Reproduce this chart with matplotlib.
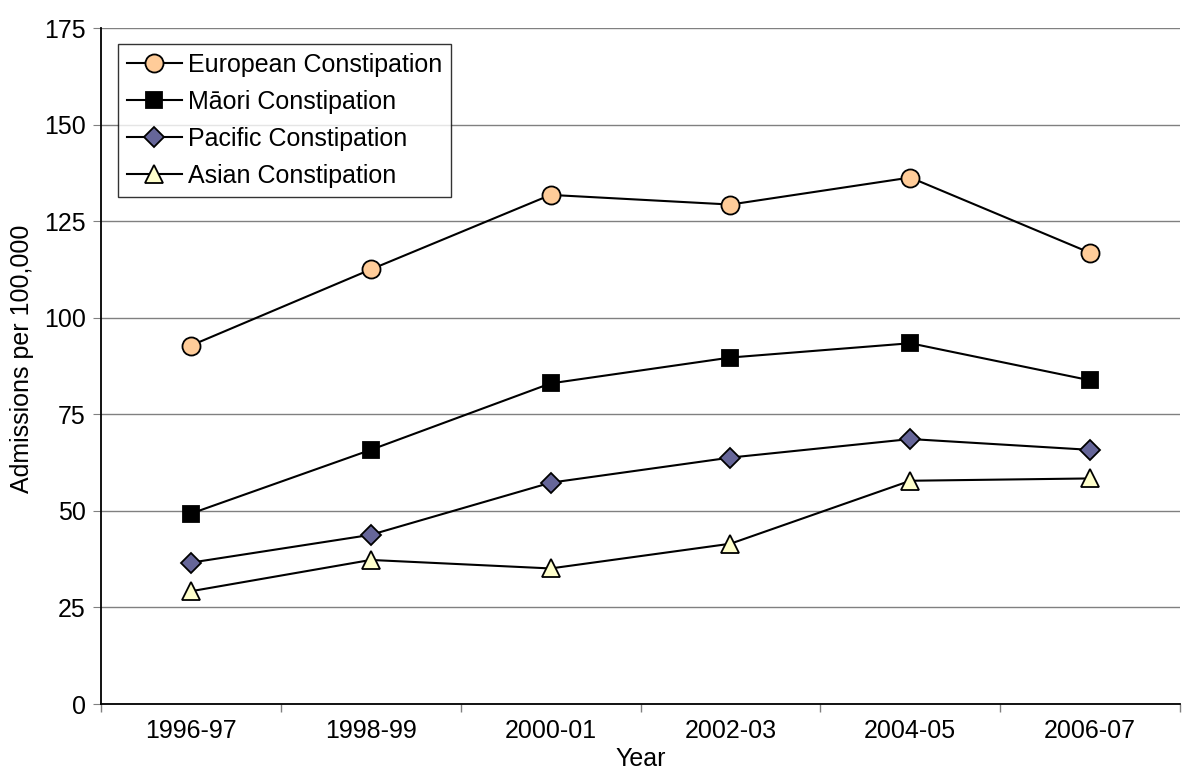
import numpy as np
import matplotlib.pyplot as plt

plt.rcParams['font.family'] = ['Liberation Sans', 'DejaVu Sans']

years = ["1996-97", "1998-99", "2000-01", "2002-03", "2004-05", "2006-07"]
european = [92.8, 112.5, 131.8, 129.3, 136.3, 116.8]
maori = [49.3, 65.8, 83.0, 89.7, 93.4, 83.8]
pacific = [36.6, 43.8, 57.3, 63.8, 68.6, 65.8]
asian = [29.2, 37.3, 35.1, 41.5, 57.8, 58.4]

fs = 18

fig = plt.figure(figsize=(11.98, 7.74), dpi=100)
ax = fig.add_axes([0.0843, 0.0904, 0.9007, 0.8734])

x = np.arange(len(years))
ax.plot(x, european, color="black", lw=1.5, marker="o", ms=13, mfc="#FFCC99", mec="black", mew=1.3, label="European Constipation")
ax.plot(x, maori, color="black", lw=1.5, marker="s", ms=12, mfc="black", mec="black", mew=1.3, label="Māori Constipation")
ax.plot(x, pacific, color="black", lw=1.5, marker="D", ms=10, mfc="#666699", mec="black", mew=1.3, label="Pacific Constipation")
ax.plot(x, asian, color="black", lw=1.5, marker="^", ms=13, mfc="#FFFFCC", mec="black", mew=1.3, label="Asian Constipation")

ax.set_xlim(-0.5, len(years) - 0.5)
ax.set_ylim(0, 175)
ax.set_yticks(np.arange(0, 176, 25))
ax.set_xticks(x)
ax.set_xticklabels(years)
ax.set_xticks(np.arange(-0.5, len(years), 1), minor=True)
ax.tick_params(axis="x", which="major", length=0, pad=11, labelsize=fs)
ax.tick_params(axis="x", which="minor", length=6, color="#808080", width=1)
ax.tick_params(axis="y", length=6, color="#808080", pad=5, labelsize=fs)
ax.yaxis.grid(True, color="#808080", lw=1)
ax.set_axisbelow(True)

for s in ["top", "right"]:
    ax.spines[s].set_visible(False)
for s in ["left", "bottom"]:
    ax.spines[s].set_linewidth(1.3)

ax.set_xlabel("Year", fontsize=fs, labelpad=3)
ax.set_ylabel("Admissions per 100,000", fontsize=fs)
ax.yaxis.set_label_coords(-0.062, 0.51)

leg = ax.legend(loc="upper left", bbox_to_anchor=(0.0158, 0.976), fontsize=fs, frameon=True,
                fancybox=False, edgecolor="black", handlelength=2.2, handletextpad=0.25,
                borderpad=0.35, labelspacing=0.52, borderaxespad=0)
leg.get_frame().set_linewidth(1)

plt.savefig("out.png", dpi=100)
